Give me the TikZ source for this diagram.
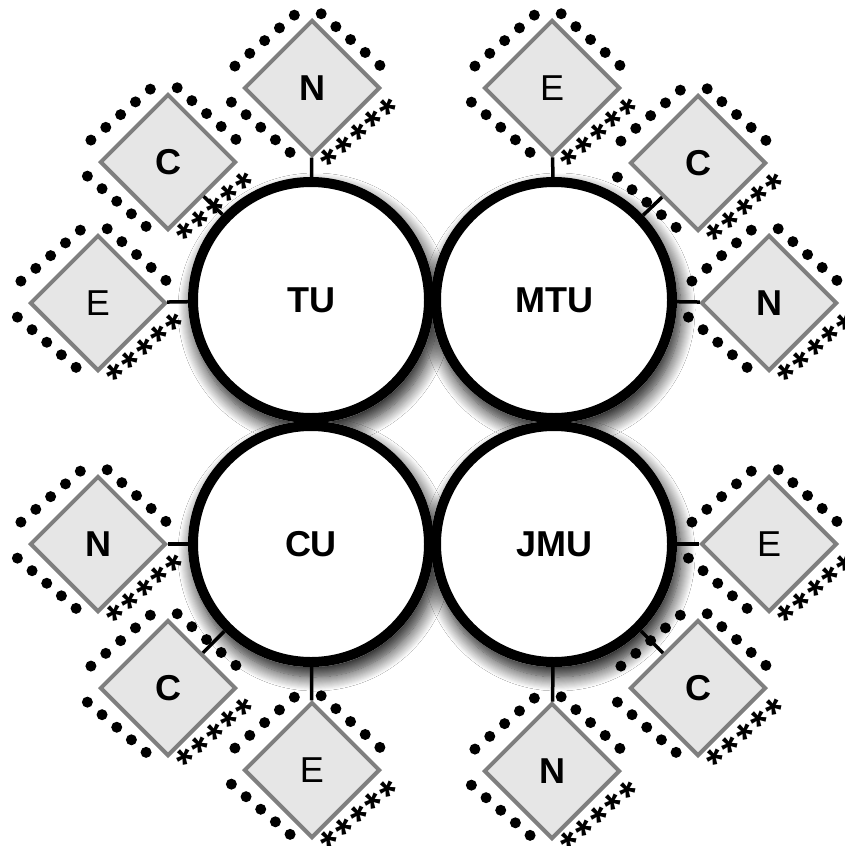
\documentclass[tikz,border=0pt]{standalone}
\usepackage{fontspec}
\setmainfont{Liberation Sans}
\usetikzlibrary{shapes.geometric,shadows.blur}
\definecolor{dfill}{HTML}{E6E6E6}
\definecolor{dline}{HTML}{7F7F7F}
\tikzset{
  shad/.style={fill=white, blur shadow={shadow xshift=4pt, shadow yshift=-10pt, shadow blur radius=14pt, shadow blur steps=14, shadow opacity=90}},
  uni/.style={circle, draw=black, line width=10pt, fill=white, minimum size=236pt, inner sep=0pt,
    font=\bfseries\fontsize{36}{40}\selectfont},
  dia/.style={diamond, draw=dline, line width=4pt, fill=dfill, minimum width=136pt, minimum height=136pt,
    inner sep=0pt, font=\bfseries\fontsize{36}{40}\selectfont},
  diareg/.style={dia, font=\fontsize{36}{40}\selectfont},
  conn/.style={draw=black, line width=3.5pt},
  astx/.style={inner sep=0pt, rotate=45, font=\bfseries\fontsize{42}{42}\selectfont},
}
\newcommand{\dotat}[4]{% cx cy u v
  \pgfmathsetmacro{\dPx}{#1+((#3)-(#4))*0.7071}%
  \pgfmathsetmacro{\dPy}{#2-((#3)+(#4))*0.7071}%
  \fill[black] (\dPx,\dPy) circle[radius=5.5pt];}
\newcommand{\astat}[5]{% name cx cy u v
  \pgfmathsetmacro{\dPx}{#2+((#4)-(#5))*0.7071}%
  \pgfmathsetmacro{\dPy}{#3-((#4)+(#5))*0.7071}%
  \node[astx] (#1) at (\dPx,\dPy) {\smash{\raisebox{-0.56em}{*}}};}
\newcommand{\mydeco}[3]{%
  \foreach \dT in {0,0.25,0.5,0.75,1}{%
    \dotat{#2}{#3}{-39+78*\dT}{70-6*\dT}
    \dotat{#2}{#3}{59+5*\dT}{46-78*\dT}
    \dotat{#2}{#3}{-67+6*\dT}{47-77*\dT}
  }%
  \foreach \dT/\dk in {0/1,0.25/2,0.5/3,0.75/4,1/5}{%
    \astat{#1a\dk}{#2}{#3}{-37+77*\dT}{-58-6*\dT}
  }}
\begin{document}
\begin{tikzpicture}[x=1pt,y=-1pt]
\useasboundingbox (0,0) rectangle (844,846);
\fill[white] (0,0) rectangle (844,846);
% shadows of the universities
\path[shad] (311,300) circle[radius=123pt];
\path[shad] (554,300) circle[radius=123pt];
\path[shad] (311,544) circle[radius=123pt];
\path[shad] (554,544) circle[radius=123pt];
% universities
\node[uni] (tu) at (311,300) {TU};
\node[uni] (mtu) at (554,300) {MTU};
\node[uni] (cu) at (311,544) {CU};
\node[uni] (jmu) at (554,544) {JMU};
% diamonds
\node[dia] (tuN) at (312,88) {N};
\node[dia] (tuC) at (168,162) {C};
\node[diareg] (tuE) at (98,303) {E};
\node[diareg] (mtuE) at (552,88) {E};
\node[dia] (mtuC) at (698,163) {C};
\node[dia] (mtuN) at (769,303) {N};
\node[dia] (cuN) at (98,544) {N};
\node[dia] (cuC) at (168,688) {C};
\node[diareg] (cuE) at (312,770) {E};
\node[diareg] (jmuE) at (769,544) {E};
\node[dia] (jmuC) at (698,688) {C};
\node[dia] (jmuN) at (552,771) {N};
% decorations
\mydeco{tuN}{312}{88}
\mydeco{tuC}{168}{162}
\mydeco{tuE}{98}{303}
\mydeco{mtuE}{552}{88}
\mydeco{mtuC}{698}{163}
\mydeco{mtuN}{769}{303}
\mydeco{cuN}{98}{544}
\mydeco{cuC}{168}{688}
\mydeco{cuE}{312}{770}
\mydeco{jmuE}{769}{544}
\mydeco{jmuC}{698}{688}
\mydeco{jmuN}{552}{771}
% connectors
\draw[conn] (tuN) -- (tu);
\draw[conn] (tuC) -- (tu);
\draw[conn] (tuE) -- (tu);
\draw[conn] (mtuE) -- (mtu);
\draw[conn] (mtuC) -- (mtu);
\draw[conn] (mtuN) -- (mtu);
\draw[conn] (cuN) -- (cu);
\draw[conn] (cuC) -- (cu);
\draw[conn] (cuE) -- (cu);
\draw[conn] (jmuE) -- (jmu);
\draw[conn] (jmuC) -- (jmu);
\draw[conn] (jmuN) -- (jmu);
\end{tikzpicture}
\end{document}
